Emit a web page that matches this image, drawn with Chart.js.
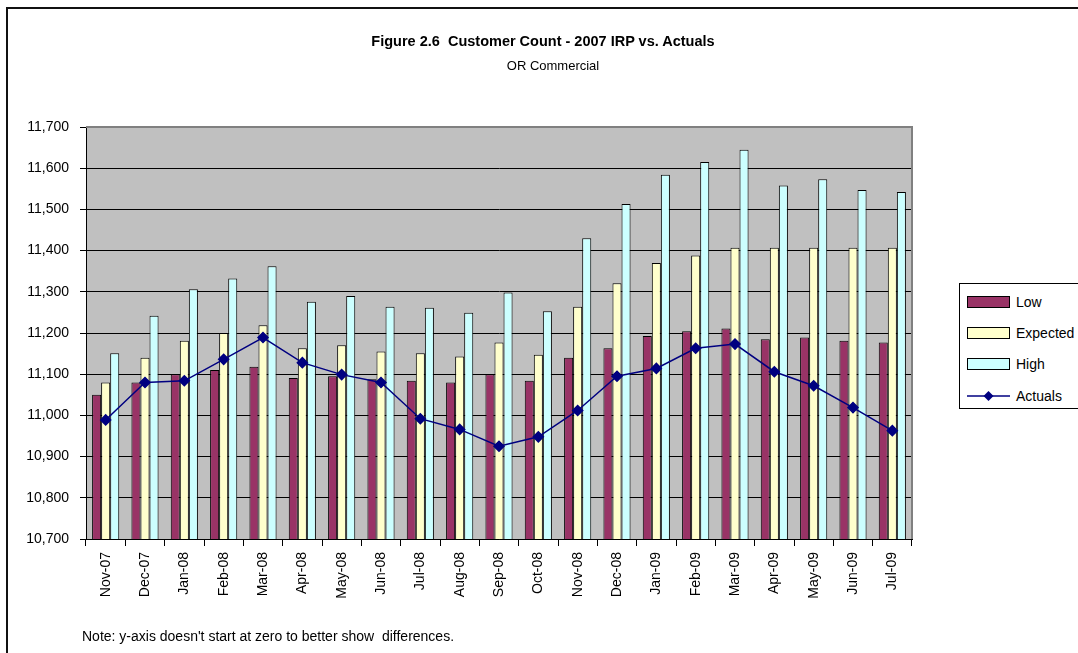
<!DOCTYPE html>
<html>
<head>
<meta charset="utf-8">
<script src="https://cdn.jsdelivr.net/npm/chart.js@4.4.0/dist/chart.umd.min.js"></script>
<style>
  html, body { margin: 0; padding: 0; background: #fff; }
  body { width: 1078px; height: 653px; position: relative; overflow: hidden;
         font-family: "Liberation Sans", Arial, sans-serif; color: #000; }
  #frame { position: absolute; left: 6px; top: 7px; width: 1100px; height: 700px;
           border-top: 2px solid #111; border-left: 2px solid #111; }
  #chart { position: absolute; left: 0; top: 0; }
  .txt { position: absolute; white-space: pre; }
  #title { left: 343px; width: 400px; top: 33px; text-align: center; font-weight: bold; font-size: 14.5px; }
  #subtitle { left: 453px; width: 200px; top: 58px; text-align: center; font-size: 13px; }
  #note { left: 82px; top: 628px; font-size: 14px; }
  #legend { position: absolute; left: 959px; top: 283px; width: 140px; height: 124px;
            border: 1px solid #000; background: #fff; }
  .item { position: absolute; left: 7px; height: 16px; font-size: 14px; line-height: 16px; }
  .sw { position: absolute; left: 0; top: 2px; width: 41px; height: 10px; border: 1px solid #000; }
  .lab { position: absolute; left: 49px; top: 0; white-space: pre; }
</style>
</head>
<body>
<div id="frame"></div>
<canvas id="chart" width="1078" height="653"></canvas>
<div class="txt" id="title">Figure 2.6  Customer Count - 2007 IRP vs. Actuals</div>
<div class="txt" id="subtitle">OR Commercial</div>
<div class="txt" id="note">Note: y-axis doesn't start at zero to better show  differences.</div>
<div id="legend"></div>
<script>
/* Figure 2.6 customer count: IRP bands vs. actuals */

var months = ['Nov-07', 'Dec-07', 'Jan-08', 'Feb-08', 'Mar-08', 'Apr-08', 'May-08', 'Jun-08',
  'Jul-08', 'Aug-08', 'Sep-08', 'Oct-08', 'Nov-08', 'Dec-08', 'Jan-09', 'Feb-09', 'Mar-09',
  'Apr-09', 'May-09', 'Jun-09', 'Jul-09'];

var lowVals = [11050, 11080, 11100, 11110, 11118, 11091, 11095, 11088, 11084, 11080, 11100,
  11084, 11140, 11163, 11193, 11204, 11211, 11185, 11189, 11181, 11177];
var expectedVals = [11080, 11140, 11181, 11200, 11219, 11163, 11170, 11155, 11151, 11143, 11177,
  11147, 11264, 11321, 11370, 11388, 11407, 11407, 11407, 11407, 11407];
var highVals = [11151, 11242, 11306, 11332, 11362, 11276, 11290, 11264, 11261, 11249, 11298,
  11253, 11430, 11513, 11584, 11615, 11645, 11558, 11573, 11547, 11542];
var actualVals = [10989, 11080, 11084, 11136, 11189, 11128, 11099, 11080, 10992, 10966, 10925,
  10948, 11012, 11095, 11114, 11163, 11173, 11106, 11072, 11019, 10963];

var yMin = 10700, yMax = 11700, yStep = 100;

var _font = {family: '"Liberation Sans", Arial, sans-serif', size: 14};

var plotBg = {
  id: 'plotBg',
  beforeDraw: function(chart) {
    var a = chart.chartArea, ctx = chart.ctx;
    ctx.save();
    ctx.fillStyle = '#c0c0c0';
    ctx.fillRect(a.left, a.top, a.right - a.left, a.bottom - a.top);
    ctx.restore();
  },
  afterDraw: function(chart) {
    var a = chart.chartArea, ctx = chart.ctx;
    ctx.save();
    ctx.strokeStyle = '#808080';
    ctx.lineWidth = 2;
    ctx.beginPath();
    ctx.moveTo(a.left, a.top);
    ctx.lineTo(a.right, a.top);
    ctx.lineTo(a.right, a.bottom);
    ctx.stroke();
    ctx.restore();
  }
};

function barSet(label, data, color) {
  return {
    type: 'bar', label: label, data: data, order: 1,
    backgroundColor: color, borderColor: '#000', borderWidth: 1, borderSkipped: false,
    categoryPercentage: 0.69, barPercentage: 1
  };
}

new Chart(document.getElementById('chart'), {
  data: {
    labels: months,
    datasets: [
      barSet('Low', lowVals, '#993366'),
      barSet('Expected', expectedVals, '#ffffcc'),
      barSet('High', highVals, '#ccffff'),
      {type: 'line', label: 'Actuals', data: actualVals, order: 0,
       borderColor: '#000080', borderWidth: 1.5, pointStyle: 'rectRot', pointRadius: 5,
       pointBackgroundColor: '#000080', pointBorderColor: '#000080', fill: false, tension: 0}
    ]
  },
  options: {
    responsive: false, animation: false,
    layout: {padding: {left: 6, right: 166, top: 127, bottom: 0}},
    plugins: {legend: {display: false}, tooltip: {enabled: false}},
    scales: {
      x: {
        offset: true,
        grid: {offset: true, drawOnChartArea: false, drawTicks: true, tickLength: 7, color: '#000'},
        border: {color: '#000', width: 1},
        ticks: {color: '#000', font: _font, minRotation: 90, maxRotation: 90, autoSkip: false, padding: 6},
        afterFit: function(s) { s.height = 114; }
      },
      y: {
        min: yMin, max: yMax,
        grid: {color: '#000', lineWidth: 1, tickLength: 6},
        border: {color: '#000', width: 1},
        ticks: {stepSize: yStep, color: '#000', font: _font, padding: 11,
                callback: function(v) { return v.toLocaleString('en-US'); }},
        afterFit: function(s) { s.width = 80; }
      }
    }
  },
  plugins: [plotBg]
});

/* legend */
var legendItems = [
  {label: 'Low', color: '#993366', y: 10},
  {label: 'Expected', color: '#ffffcc', y: 41},
  {label: 'High', color: '#ccffff', y: 72},
  {label: 'Actuals', line: '#000080', y: 104}
];
var lg = document.getElementById('legend');
legendItems.forEach(function(it) {
  var d = document.createElement('div');
  d.className = 'item';
  d.style.top = it.y + 'px';
  if (it.line) {
    d.innerHTML = '<svg width="44" height="16" style="position:absolute;left:0;top:0">' +
      '<line x1="0" y1="8" x2="43" y2="8" stroke="' + it.line + '" stroke-width="1.5"/>' +
      '<polygon points="16.5,8 21.5,3 26.5,8 21.5,13" fill="' + it.line + '"/></svg>';
  } else {
    d.innerHTML = '<div class="sw" style="background:' + it.color + '"></div>';
  }
  d.innerHTML += '<span class="lab">' + it.label + '</span>';
  lg.appendChild(d);
});
</script>
</body>
</html>
